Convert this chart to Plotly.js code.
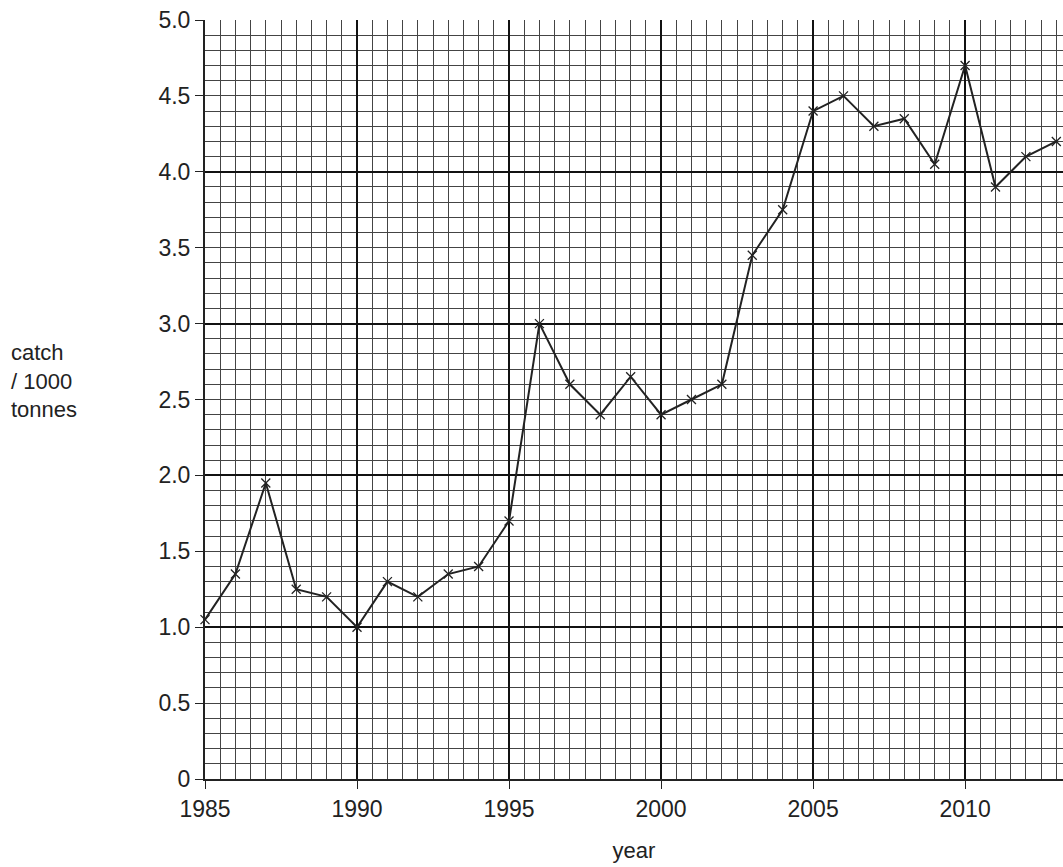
<!DOCTYPE html>
<html>
<head>
<meta charset="utf-8">
<script src="https://cdn.plot.ly/plotly-3.0.1.min.js"></script>
<style>html,body{margin:0;padding:0;background:#fff}</style>
</head>
<body>
<div id="chart" style="width:1063px;height:867px"></div>
<script>
const years = [1985, 1986, 1987, 1988, 1989, 1990, 1991, 1992, 1993, 1994, 1995, 1996, 1997, 1998,
               1999, 2000, 2001, 2002, 2003, 2004, 2005, 2006, 2007, 2008, 2009, 2010, 2011, 2012, 2013];
const catchK = [1.05, 1.35, 1.95, 1.25, 1.2, 1.0, 1.3, 1.2, 1.35, 1.4, 1.7, 3.0, 2.6, 2.4,
                2.65, 2.4, 2.5, 2.6, 3.45, 3.75, 4.4, 4.5, 4.3, 4.35, 4.05, 4.7, 3.9, 4.1, 4.2];
const yTickVals = [0, 0.5, 1, 1.5, 2, 2.5, 3, 3.5, 4, 4.5, 5];
const yTickText = ['0', '0.5', '1.0', '1.5', '2.0', '2.5', '3.0', '3.5', '4.0', '4.5', '5.0'];

const xr = [1985, 2013.22];
const tf = { size: 23, color: '#222' };

const trace = {
    x: years,
    y: catchK,
    mode: 'lines+markers',
    line: { color: '#222', width: 2 },
    marker: { symbol: 'x-thin', size: 9, line: { color: '#222', width: 1.3 } },
    hoverinfo: 'skip',
    cliponaxis: false
};

// invisible trace just to activate the bold-grid overlay axes
const boldGrid = { x: xr, y: [0, 5], xaxis: 'x2', yaxis: 'y2', mode: 'none', hoverinfo: 'skip' };

const layout = {
    width: 1063,
    height: 867,
    margin: { l: 205, r: 0, t: 20, b: 88 },
    paper_bgcolor: '#fff',
    plot_bgcolor: '#fff',
    showlegend: false,
    font: { family: 'Liberation Sans, Arial, sans-serif', color: '#222', size: 22 },
    xaxis: {
        range: xr,
        tick0: 1985, dtick: 5,
        ticks: 'outside', ticklen: 8, tickcolor: '#222', tickfont: tf,
        showgrid: true, gridcolor: '#333', gridwidth: 1,
        minor: { dtick: 0.5, showgrid: true, gridcolor: '#444', gridwidth: 1 },
        showline: true, linecolor: '#222', linewidth: 2,
        zeroline: false,
        title: { text: 'year', standoff: 22, font: { size: 22 } }
    },
    yaxis: {
        range: [0, 5],
        tickvals: yTickVals, ticktext: yTickText,
        ticks: 'outside', ticklen: 8, tickcolor: '#222', tickfont: tf,
        showgrid: true, gridcolor: '#444', gridwidth: 1,
        minor: { dtick: 0.1, showgrid: true, gridcolor: '#444', gridwidth: 1 },
        showline: true, linecolor: '#222', linewidth: 2,
        zeroline: false
    },
    xaxis2: {
        range: xr, overlaying: 'x', dtick: 5, tick0: 1985,
        showgrid: true, gridcolor: '#111', gridwidth: 2,
        showticklabels: false, zeroline: false
    },
    yaxis2: {
        range: [0, 5], overlaying: 'y', dtick: 1,
        showgrid: true, gridcolor: '#111', gridwidth: 2,
        showticklabels: false, zeroline: false
    },
    annotations: [{
        text: 'catch<br>/ 1000<br>tonnes',
        xref: 'paper', yref: 'paper',
        x: -0.229, y: 0.525, xanchor: 'left', yanchor: 'middle',
        align: 'left', showarrow: false,
        font: { size: 22 }
    }]
};

Plotly.newPlot('chart', [boldGrid, trace], layout, { displayModeBar: false, staticPlot: true });
</script>
</body>
</html>
